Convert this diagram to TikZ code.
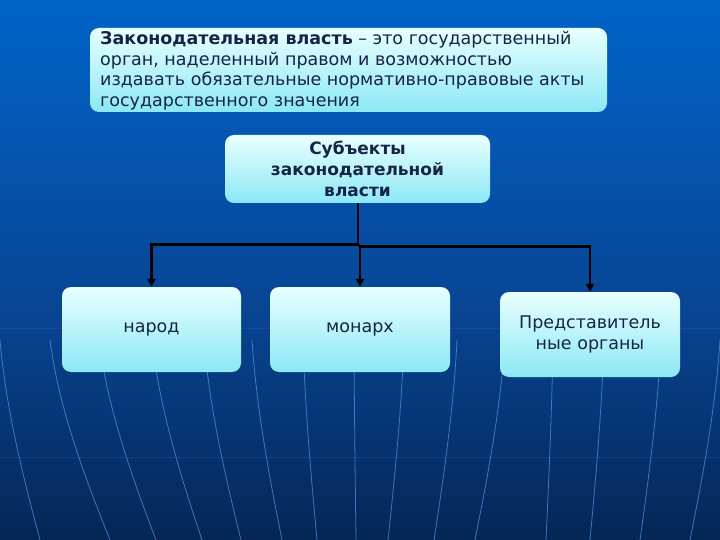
\documentclass[tikz,border=0pt]{standalone}
\usepackage{fontspec}
\setmainfont{DejaVu Sans}
\usetikzlibrary{arrows.meta}
\definecolor{bgtop}{RGB}{0,100,200}
\definecolor{bgmid}{RGB}{8,70,150}
\definecolor{bgbot}{RGB}{5,38,85}
\definecolor{boxtop}{RGB}{232,255,255}
\definecolor{boxbot}{RGB}{140,232,245}
\definecolor{txt}{RGB}{22,36,70}
\definecolor{meri}{RGB}{80,150,235}
\tikzset{
  cbox/.style={rounded corners=9pt, top color=boxtop, bottom color=boxbot, draw=none, text=txt, inner sep=0pt},
  link/.style={line width=2.3pt, black},
  arr/.style={link, -{Triangle[length=8pt,width=8pt]}},
  meridian/.style={meri, line width=0.8pt, opacity=0.7}
}
\begin{document}
\begin{tikzpicture}[x=1pt,y=-1pt]
\useasboundingbox (0,0) rectangle (720,540);
% background
\shade[top color=bgtop, bottom color=bgmid] (0,0) rectangle (720,300);
\shade[top color=bgmid, bottom color=bgbot] (0,300) rectangle (720,540);
% faint grid
\foreach \yy in {328,457} \draw[meri, opacity=0.15, line width=0.8pt] (0,\yy) -- (720,\yy);
% meridians
\foreach \xa/\xb in {0/40, 50/110, 99/156, 152/202, 204/241, 252/282, 303/317, 354/356, 404/388, 457/434, 505/475, 553/546, 604/590, 661/640, 720/690}{
  \draw[meridian] (\xa,340) .. controls ({\xa+0.15*(\xb-\xa)},410) and ({\xb-0.4*(\xb-\xa)},480) .. (\xb,540);
}
% boxes
\node[cbox, minimum width=517pt, minimum height=84pt] (def) at (348.5,70) {};
\node[anchor=north west, text=txt, align=left, font=\fontsize{17.5}{20.6}\selectfont, inner sep=0pt] (deftext) at (100,31)
 {\textbf{Законодательная власть} – это государственный\\орган, наделенный правом и возможностью\\издавать обязательные нормативно-правовые акты\\государственного значения};
\node[cbox, minimum width=265pt, minimum height=68pt, align=center, font=\bfseries\fontsize{17}{21}\selectfont] (subj) at (357.5,169) {Субъекты\\законодательной\\власти};
\node[cbox, minimum width=179pt, minimum height=85pt, font=\fontsize{17.5}{21.5}\selectfont] (narod) at (151.5,329.5) {народ};
\node[cbox, minimum width=180pt, minimum height=85pt, font=\fontsize{17.5}{21.5}\selectfont] (monarch) at (360,329.5) {монарх};
\node[cbox, minimum width=180pt, minimum height=85pt, align=center, font=\fontsize{17.5}{21.5}\selectfont] (rep) at (590,334.5) {Представитель\\ные органы};
% connectors
\coordinate (j1) at (358,244.5);
\coordinate (j2) at (360,246.5);
\draw[link] (subj.south -| j1) -- (j1);
\draw[arr] (j1) -| (narod.north);
\draw[link] (j1) -- (j2);
\draw[arr] (j2) -- (monarch.north -| j2);
\draw[arr] (j2) -| (rep.north);
\end{tikzpicture}
\end{document}
